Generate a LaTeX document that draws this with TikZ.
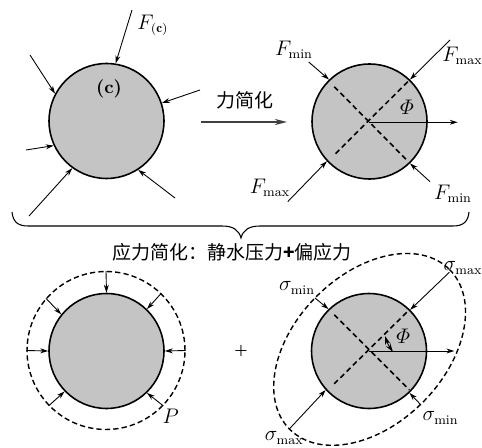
\documentclass[tikz,border=0pt]{standalone}
\usepackage{fontspec}
\newfontfamily\cjk{Noto Sans CJK SC}
\usetikzlibrary{arrows.meta}
\DeclareMathSymbol{\itPhi}{\mathord}{letters}{"08}
\DeclareMathSizes{11.5}{11.5}{7.5}{5}
\tikzset{
  disc/.style={circle, draw, fill=black!23, line width=0.9pt, inner sep=0pt, minimum size=2.3cm},
  ring/.style={circle, draw, line width=0.8pt, dash pattern=on 3pt off 1.8pt, inner sep=0pt, minimum size=3.16cm},
  force/.style={-{Stealth[length=4.5pt,width=2.8pt]}, line width=0.5pt},
  axisline/.style={dash pattern=on 3pt off 2pt, line width=0.9pt},
  lab/.style={inner sep=0pt, font=\fontsize{11.5}{13}\selectfont},
  cjklab/.style={inner sep=0pt, font=\fontsize{10.8}{13}\selectfont\cjk}
}
\begin{document}
\begin{tikzpicture}[x=0.02cm,y=-0.02cm]
    \useasboundingbox (0,0) rectangle (482,448);

    % Discs
    \node[disc] (disc1) at (106.5,121) {};
    \node[disc] (disc2) at (369.5,121.5) {};
    \node[ring] (ring3) at (106,350.5) {};
    \node[disc] (disc3) at (106.5,351) {};
    \draw[dash pattern=on 3pt off 1.8pt, line width=0.8pt] (369.6,349.4) ellipse [x radius=113, y radius=75, rotate=45];
    \node[disc] (disc4) at (369,351) {};

    % Loads on the first disc
    \foreach \n/\px/\py/\ang in {a/132/10/81, b/30/55/152, c/200/90/18, d/26/150/205, e/29/216/234, f/175/198/303}{
        \coordinate (free1\n) at (\px,\py);
        \draw[force] (free1\n) -- (disc1.\ang);
    }
    \node[lab] (F1) at (153,25) {$F_{(\mathbf{c})}$};
    \node[lab, font=\fontsize{10.5}{13}\selectfont] (c1) at (109,89) {\textbf{(c)}};

    % Simplification arrow
    \coordinate (s1) at (201,122);
    \coordinate (s2) at (287,122);
    \draw[-{Stealth[length=7pt,width=3.5pt]}, line width=0.7pt, black!75] (s1) -- (s2);
    \node[cjklab] (simp) at (245,100) {力简化};

    % Simplified loads
    \foreach \n/\px/\py/\ang in {a/308.7/62/134, b/450/40/46, c/287.7/201.7/223, d/430/181.7/314}{
        \coordinate (free2\n) at (\px,\py);
        \draw[force] (free2\n) -- (disc2.\ang);
    }
    \coordinate (d2a) at (334.3,86.7);
    \coordinate (d2b) at (407.7,161);
    \coordinate (d2c) at (407.7,81.7);
    \coordinate (d2d) at (334.3,155);
    \draw[axisline] (d2a) -- (d2b);
    \draw[axisline] (d2c) -- (d2d);
    \coordinate (o2) at (369.3,122.3);
    \coordinate (x2) at (457.7,122.3);
    \draw[force] (o2) -- (x2);
    \node[lab] (phi2) at (407,107) {$\itPhi$};
    \node[lab] (Fa) at (294,50) {$F_{\mathrm{min}}$};
    \node[lab] (Fb) at (462.5,56) {$F_{\mathrm{max}}$};
    \node[lab] (Fc) at (270,188) {$F_{\mathrm{max}}$};
    \node[lab] (Fd) at (453,194) {$F_{\mathrm{min}}$};

    % Brace
    \coordinate (bl) at (12,212);
    \coordinate (br) at (469,212);
    \coordinate (bt) at (241,238);
    \draw[line width=0.6pt] (bl) .. controls (13,222) and (18,226) .. (28,226) -- (222,226)
        .. controls (233,226) and (239,230) .. (bt)
        .. controls (243,230) and (249,226) .. (260,226) -- (453,226)
        .. controls (463,226) and (468,222) .. (br);
    \node[cjklab] (title) at (232,252) {应力简化：静水压力{\bfseries +}偏应力};

    % Hydrostatic pressure
    \foreach \from/\to in {90/90, 180/180, 0/0, 139/141, 46/46, 224.5/224, 316/314}{
        \draw[force] (ring3.\from) -- (disc3.\to);
    }
    \node[lab] (P) at (170.7,416.7) {$P$};
    \node[inner sep=0pt, font=\fontsize{8}{9}\selectfont\bfseries] (plus) at (241,351) {+};

    % Deviatoric stress
    \foreach \n/\px/\py/\ang in {a/449.3/272.3/45, b/289.3/429/222.6, c/315/298/134, d/421/405/314}{
        \coordinate (free4\n) at (\px,\py);
        \draw[force] (free4\n) -- (disc4.\ang);
    }
    \coordinate (d4a) at (334.3,314.7);
    \coordinate (d4b) at (409.3,389.7);
    \coordinate (d4c) at (406.7,312.3);
    \coordinate (d4d) at (331.7,386.3);
    \draw[axisline] (d4a) -- (d4b);
    \draw[axisline] (d4c) -- (d4d);
    \coordinate (o4) at (369.3,351);
    \coordinate (x4) at (454.3,351);
    \draw[force] (o4) -- (x4);
    \coordinate (arc1) at (385,336);
    \coordinate (arc2) at (393,352);
    \draw[{Stealth[length=5pt,width=3pt]}-{Stealth[length=5pt,width=3pt]}, line width=0.5pt] (arc1) to[bend right=8] (arc2);
    \node[lab] (phi4) at (403.3,336.3) {$\itPhi$};
    \node[lab] (sa) at (463,268) {$\sigma_{\mathrm{max}}$};
    \node[lab] (sb) at (297,288) {$\sigma_{\mathrm{min}}$};
    \node[lab] (sc) at (440.5,418) {$\sigma_{\mathrm{min}}$};
    \node[lab] (sd) at (284.3,438) {$\sigma_{\mathrm{max}}$};
\end{tikzpicture}
\end{document}
